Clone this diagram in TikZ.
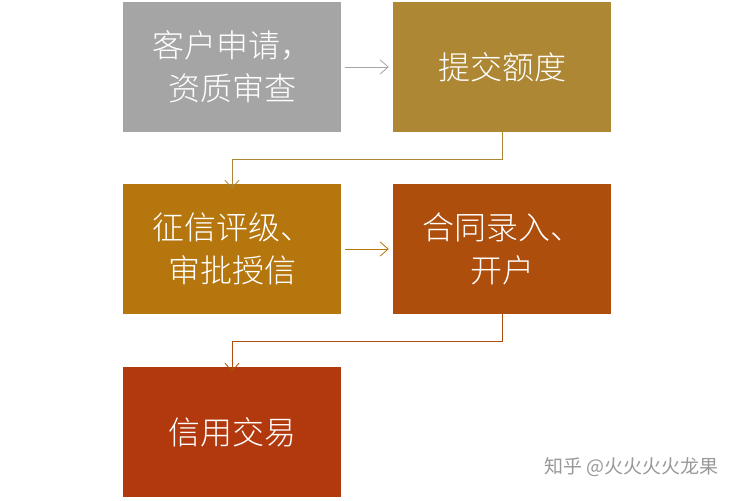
\documentclass[tikz,border=0pt]{standalone}
\usepackage{fontspec}
\newfontfamily\cjk{Noto Sans CJK SC Light}
\newfontfamily\cjkr{Noto Sans CJK SC}
\usetikzlibrary{arrows.meta}
\definecolor{cA}{HTML}{A5A5A5}
\definecolor{cB}{HTML}{AD8734}
\definecolor{cC}{HTML}{B5760E}
\definecolor{cD}{HTML}{AE4E0C}
\definecolor{cE}{HTML}{B2380E}
\begin{document}
\begin{tikzpicture}[x=1pt,y=-1pt,
  boxst/.style={minimum width=218pt,minimum height=130pt,inner sep=0pt,text=white,font=\cjk\fontsize{32}{43}\selectfont,align=center},
  conn/.style={line width=0.8pt,-{Straight Barb[length=8pt,width=14pt]}}]
\useasboundingbox (0,0) rectangle (735,500);
\node[boxst,fill=cA] (a) at (232,67) {客户申请，\\资质审查};
\node[boxst,fill=cB] (b) at (502,67) {提交额度};
\node[boxst,fill=cC] (c) at (232,249) {征信评级、\\审批授信};
\node[boxst,fill=cD] (d) at (502,249) {合同录入、\\开户};
\node[boxst,fill=cE] (e) at (232,432) {信用交易};
\draw[conn,draw=cA] ([xshift=4pt]a.east) -- ([xshift=-4pt]b.west);
\draw[conn,draw=cB] ([yshift=2pt]b.south) |- (232,159) -- ([yshift=-5pt]c.north);
\draw[conn,draw=cC] ([xshift=4pt]c.east) -- ([xshift=-4pt]d.west);
\draw[conn,draw=cD] ([yshift=2pt]d.south) |- (232,341) -- ([yshift=-5pt]e.north);
\node[anchor=east,text=gray!80,font=\cjkr\fontsize{19}{21}\selectfont] (w) at (722,467) {知乎 @火火火火龙果};
\end{tikzpicture}
\end{document}
